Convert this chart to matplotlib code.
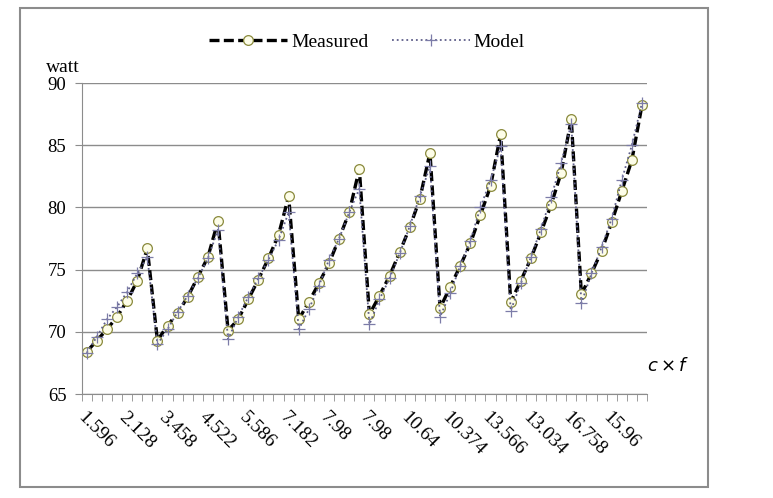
import matplotlib
matplotlib.use('Agg')
import matplotlib.pyplot as plt
from matplotlib.patches import Rectangle
from matplotlib.ticker import FixedLocator

# 8 core counts x 7 frequencies -> 56 points, x labels c*f every 4th point
cores=[1,2,3,4,5,6,7,8]
freqs=[1.596,1.729,1.862,1.995,2.128,2.261,2.394]
xlabels=['1.596','2.128','3.458','4.522','5.586','7.182','7.98','7.98',
         '10.64','10.374','13.566','13.034','16.758','15.96']

measured=[68.4,69.3,70.2,71.2,72.5,74.1,76.7,
          69.3,70.5,71.5,72.8,74.4,76.0,78.9,
          70.1,71.0,72.6,74.2,75.9,77.8,80.9,
          71.0,72.4,73.9,75.5,77.5,79.6,83.1,
          71.4,72.9,74.5,76.4,78.4,80.7,84.4,
          71.9,73.6,75.3,77.1,79.4,81.7,85.9,
          72.4,74.1,75.9,78.0,80.2,82.8,87.1,
          73.0,74.7,76.5,78.8,81.3,83.8,88.2]
model=[68.3,69.6,71.0,72.0,73.2,74.7,76.0,
       69.0,70.2,71.6,72.9,74.3,75.9,78.2,
       69.4,71.2,72.8,74.3,75.8,77.4,79.6,
       70.2,71.8,73.7,75.8,77.5,79.6,81.5,
       70.6,72.6,74.3,76.3,78.5,80.9,83.3,
       71.2,73.1,75.3,77.3,80.0,82.2,84.9,
       71.7,73.9,76.0,78.3,80.8,83.6,86.7,
       72.3,74.7,76.8,79.1,82.2,85.0,88.4]

n=len(cores)*len(freqs)
x=list(range(n))

plt.rcParams['font.family']=['Liberation Serif','DejaVu Serif']
fig=plt.figure(figsize=(7.73,4.98),dpi=100)
fig.patches.append(Rectangle((20/773.,1-487/498.),688/773.,479/498.,transform=fig.transFigure,
                             fill=False,ec='#8c8c8c',lw=1.5))
ax=fig.add_axes([81.7/773.,1-394/498.,(647-81.7)/773.,(394-83)/498.])

ax.plot(x,model,ls=':',color='#5f5f8a',lw=1.3,marker='+',ms=9,mew=0.9,mec='#7c7ca8',label='Model',zorder=3)
ax.plot(x,measured,ls=(0,(3.0,1.3)),color='black',lw=2.4,marker='o',ms=7,mfc='#fdfde8',
        mec='#8a8a3c',mew=0.9,label='Measured',zorder=2)

ax.set_xlim(-0.5,n-0.5)
ax.set_ylim(65,90)
ax.set_yticks([65,70,75,80,85,90])
ax.yaxis.grid(True,color='#8c8c8c',lw=1.0)
ax.set_axisbelow(True)
for s in ['top','right']:ax.spines[s].set_visible(False)
for s in ['left','bottom']:ax.spines[s].set_color('#8c8c8c')
ax.tick_params(axis='y',length=5,color='#8c8c8c',labelsize=13.5,pad=6)

ax.xaxis.set_major_locator(FixedLocator([4*i for i in range(len(xlabels))]))
ax.set_xticklabels(xlabels,rotation=-45,ha='left',va='top',rotation_mode='anchor',fontsize=14)
ax.tick_params(axis='x',which='major',length=0,pad=11)
ax.xaxis.set_minor_locator(FixedLocator([i-0.5 for i in range(n+1)]))
ax.tick_params(axis='x',which='minor',length=5,color='#8c8c8c')

fig.text(46/773.,1-68/498.,'watt',fontsize=14,va='center')
fig.text(668/773.,1-366/498.,r'$c \times f$',fontsize=13,va='center',ha='center')

h,l=ax.get_legend_handles_labels()
fig.legend(h[::-1],l[::-1],loc='center',bbox_to_anchor=(367/773.,1-42/498.),ncol=2,frameon=False,
           fontsize=14,handlelength=4.0,columnspacing=1.2,handletextpad=0.2)

fig.savefig('out.png',dpi=100)
